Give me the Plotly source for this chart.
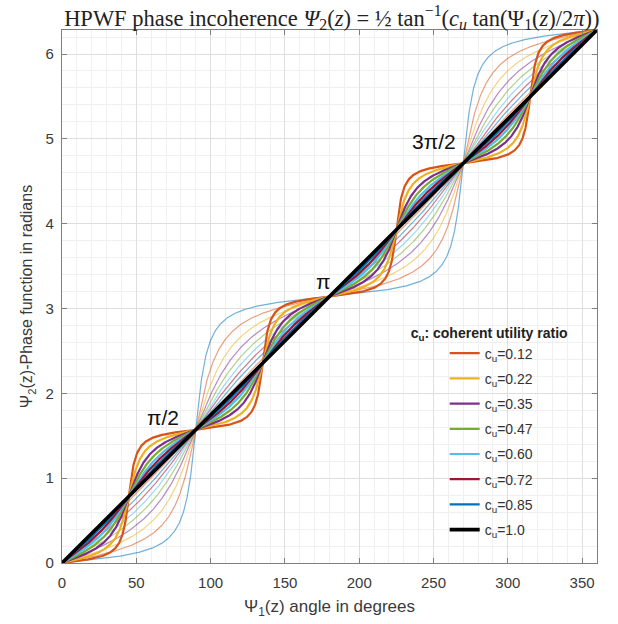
import numpy as np
import plotly.graph_objects as go

# ---- data ----
angle_deg = np.linspace(0, 360, 1441)            # Psi_1 sample angles (degrees)
thick_cu = [0.12, 0.22, 0.35, 0.47, 0.60, 0.72, 0.85, 1.0]
thick_labels = ["0.12", "0.22", "0.35", "0.47", "0.60", "0.72", "0.85", "1.0"]
thick_colors = ["#D95319", "#EDB120", "#7E2F8E", "#77AC30", "#4DBEEE", "#A2142F", "#0072BD", "#000000"]
thin_cu = [0.1, 0.2, 0.3, 0.4, 0.5, 0.6, 0.7, 0.8, 0.9]
thin_colors = ["#0072BD", "#D95319", "#EDB120", "#7E2F8E", "#77AC30", "#4DBEEE", "#A2142F", "#0072BD", "#D95319"]
x_ticks = [0, 50, 100, 150, 200, 250, 300, 350]
y_ticks = [0, 1, 2, 3, 4, 5, 6]
notes = [(68, 1.71, "π/2"), (176, 3.32, "π"), (250, 4.97, "3π/2")]

theta = np.deg2rad(angle_deg)

def thin_curve(c):
    return np.unwrap(np.arctan2(c * np.sin(theta), np.cos(theta)))

def thick_curve(c):
    return 0.5 * np.unwrap(np.arctan2(c * np.sin(2 * theta), np.cos(2 * theta)))

fig = go.Figure()
for c, col in zip(thin_cu, thin_colors):
    fig.add_trace(go.Scatter(x=angle_deg, y=thin_curve(c), mode="lines",
                             line=dict(color=col, width=1.2), opacity=0.55,
                             showlegend=False, hoverinfo="skip"))
for i, (c, lab, col) in enumerate(zip(thick_cu, thick_labels, thick_colors)):
    w = 3.6 if c == 1.0 else 2.2
    fig.add_trace(go.Scatter(x=angle_deg, y=thick_curve(c), mode="lines",
                             line=dict(color=col, width=w), legendgroup=f"g{i}",
                             name="c<sub>u</sub>=" + lab))

for x, y, t in notes:
    fig.add_annotation(x=x, y=y, text=t, showarrow=False,
                       font=dict(family="Liberation Sans, Arial", size=21, color="#111"))

axis_common = dict(showline=True, linecolor="#7f7f7f", linewidth=1.2, mirror="ticks",
                   ticks="inside", ticklen=5, tickcolor="#7f7f7f", automargin=False,
                   showgrid=True, gridcolor="#dedede", gridwidth=1, zeroline=False,
                   tickfont=dict(family="Liberation Sans, Arial", size=15, color="#3a3a3a"))

fig.update_xaxes(range=[0, 360], tickvals=x_ticks, ticklabelstandoff=6, **axis_common,
                 minor=dict(dtick=10, showgrid=True, gridcolor="#f0f0f0", ticks=""),
                 title=dict(text="Ψ<sub>1</sub>(z) angle in degrees", standoff=10,
                            font=dict(family="Liberation Sans, Arial", size=17, color="#3a3a3a")))
fig.update_yaxes(range=[0, 2 * np.pi], tickvals=y_ticks, ticklabelstandoff=4, **axis_common,
                 minor=dict(dtick=0.2, showgrid=True, gridcolor="#f0f0f0", ticks=""),
                 title=dict(text="Ψ<sub>2</sub>(z)-Phase function in radians", standoff=8,
                            font=dict(family="Liberation Sans, Arial", size=16, color="#3a3a3a")))

fig.update_layout(
    width=618, height=624,
    margin=dict(l=62, r=21, t=30, b=61, autoexpand=False),
    paper_bgcolor="white", plot_bgcolor="white",
    title=dict(text="HPWF phase incoherence <i>Ψ</i><sub>2</sub>(<i>z</i>) = ½ tan<sup>−1</sup>(<i>c<sub>u</sub></i> tan(Ψ<sub>1</sub>(<i>z</i>)/2<i>π</i>))",
               x=0.537, xanchor="center", y=0.984, yanchor="top",
               font=dict(family="Liberation Serif, Times New Roman", size=22.5, color="#222")),
    legend=dict(x=0.648, xanchor="left", y=0.457, yanchor="top",
                bgcolor="rgba(255,255,255,0)", borderwidth=0,
                font=dict(family="Liberation Sans, Arial", size=14, color="#333"),
                title=dict(text="<b>c<sub>u</sub>: coherent utility ratio</b>",
                           font=dict(family="Liberation Sans, Arial", size=14, color="#222")),
                indentation=36, tracegroupgap=4),
    showlegend=True,
)

fig.write_html("out.html", config={"displayModeBar": False},
               post_script="document.body.style.margin='0';")
